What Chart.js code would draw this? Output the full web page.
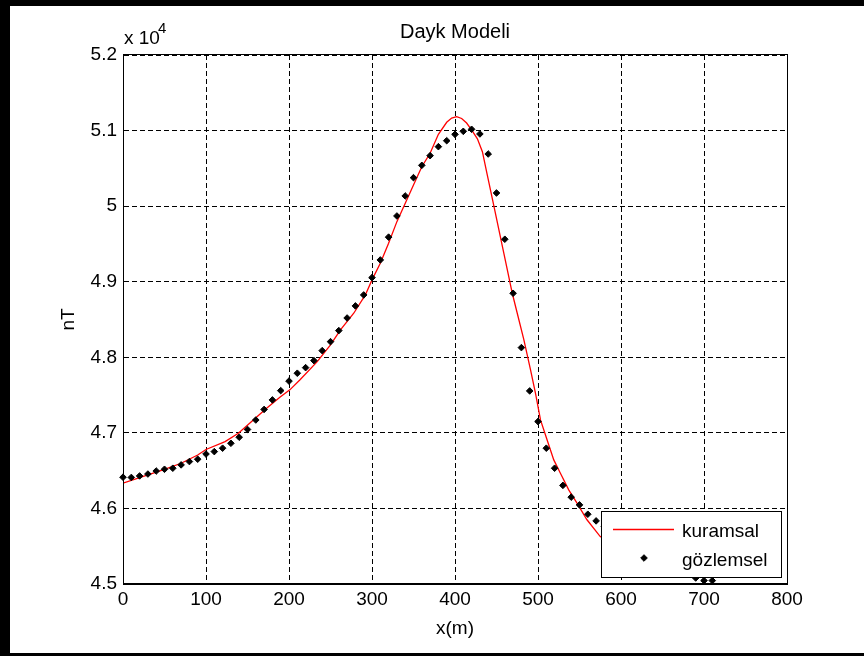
<!DOCTYPE html>
<html><head><meta charset="utf-8">
<script src="https://cdn.jsdelivr.net/npm/chart.js@4.4.1/dist/chart.umd.min.js"></script>
<style>
html,body{margin:0;padding:0;background:#fff;overflow:hidden;}
#wrap{position:relative;width:864px;height:656px;overflow:hidden;background:#fff;}
#c{position:absolute;left:0;top:0;}
#frame{position:absolute;left:0;top:0;width:864px;height:656px;box-sizing:border-box;border-top:6px solid #000;border-left:10px solid #000;border-bottom:3px solid #000;border-right:0;pointer-events:none;}
</style></head><body>
<div id="wrap"><canvas id="c" width="864" height="656"></canvas><div id="frame"></div></div>
<script>
const titleText = 'Dayk Modeli';
const xAxisTitle = 'x(m)';
const yAxisTitle = 'nT';
const exponentBase = 'x 10';
const exponentPower = '4';
const seriesNames = ['kuramsal', 'gözlemsel'];

const xTicks = [0, 100, 200, 300, 400, 500, 600, 700, 800];
const yTicks = [45000, 46000, 47000, 48000, 49000, 50000, 51000, 52000];
const yTickLabels = ['4.5', '4.6', '4.7', '4.8', '4.9', '5', '5.1', '5.2'];

// observed (gözlemsel)
const obsX = [0,10,20,30,40,50,60,70,80,90,100,110,120,130,140,150,160,170,180,190,200,210,220,230,240,250,260,270,280,290,300,310,320,330,340,350,360,370,380,390,400,410,420,430,440,450,460,470,480,490,500,510,520,530,540,550,560,570,580,590,600,610,620,630,640,650,660,670,680,690,700,710];
const obsY = [46413,46410,46430,46455,46495,46518,46532,46576,46620,46651,46720,46752,46797,46862,46942,47045,47170,47310,47436,47559,47685,47789,47863,47956,48088,48207,48353,48520,48680,48825,49054,49288,49590,49870,50135,50377,50540,50668,50787,50866,50950,50990,51017,50955,50690,50174,49562,48847,48128,47555,47150,46797,46532,46305,46149,46047,45923,45835,45760,45690,45620,45550,45480,45420,45360,45300,45240,45180,45125,45080,45045,45045];

// theoretical (kuramsal)
const theoX = [0,30,50,70,90,100,123,139,157,173,189,201,213,234,250,262,278,292,300,310,320,330,350,360,370,380,390,396,402,408,414,420,427,433,439,447,459,469,475,483,491,497,503,511,519,527,537,547,559,575,600,625,650,675,700,710];
const theoY = [46335,46443,46518,46598,46707,46780,46884,46995,47170,47326,47472,47569,47700,47942,48163,48362,48583,48825,49024,49245,49510,49795,50280,50522,50700,50950,51110,51165,51184,51160,51100,51010,50890,50720,50408,49993,49367,48847,48583,48230,47833,47524,47171,46906,46642,46466,46245,46069,45850,45627,45470,45360,45280,45220,45180,45170];

const FONT = "'Liberation Sans', Arial, sans-serif";
Chart.defaults.font.family = FONT;
Chart.defaults.color = '#000';

const extras = {
  id: 'extras',
  afterDraw(chart) {
    const ctx = chart.ctx, a = chart.chartArea;
    ctx.save();
    ctx.setLineDash([]);
    ctx.strokeStyle = '#000';
    ctx.lineWidth = 1;
    ctx.strokeRect(a.left + 0.5, a.top - 0.5, a.right - a.left, a.bottom - a.top);
    // exponent
    ctx.fillStyle = '#000';
    ctx.textAlign = 'left';
    ctx.textBaseline = 'alphabetic';
    ctx.font = '19px ' + FONT;
    ctx.fillText(exponentBase, a.left + 1, 44);
    ctx.font = '15px ' + FONT;
    ctx.fillText(exponentPower, a.left + 35, 33);
    // legend
    const lx = a.right - 186, ly = a.bottom - 73, lw = 180, lh = 66;
    ctx.fillStyle = '#fff';
    ctx.fillRect(lx, ly, lw, lh);
    ctx.strokeStyle = '#000';
    ctx.strokeRect(lx + 0.5, ly + 0.5, lw, lh);
    ctx.strokeStyle = '#ff0000';
    ctx.lineWidth = 1.3;
    ctx.beginPath();
    ctx.moveTo(lx + 12, ly + 18.5);
    ctx.lineTo(lx + 73, ly + 18.5);
    ctx.stroke();
    ctx.fillStyle = '#000';
    ctx.strokeStyle = '#000';
    ctx.lineWidth = 1;
    Chart.helpers.drawPoint(ctx, {pointStyle: 'rectRot', radius: 3.3, borderWidth: 1, rotation: 0}, lx + 43, ly + 47);
    ctx.fillStyle = '#000';
    ctx.font = '19px ' + FONT;
    ctx.fillText(seriesNames[0], lx + 81, ly + 25.5);
    ctx.fillText(seriesNames[1], lx + 81, ly + 54.5);
    ctx.restore();
  }
};

new Chart(document.getElementById('c'), {
  type: 'scatter',
  data: {
    datasets: [
      {
        label: seriesNames[0],
        data: theoX.map((x, i) => ({x: x, y: theoY[i]})),
        showLine: true,
        borderColor: '#ff0000',
        backgroundColor: '#ff0000',
        borderWidth: 1.3,
        pointRadius: 0,
        tension: 0,
        fill: false,
        order: 1
      },
      {
        label: seriesNames[1],
        data: obsX.map((x, i) => ({x: x, y: obsY[i]})),
        showLine: false,
        pointStyle: 'rectRot',
        pointRadius: 3.3,
        pointBorderWidth: 1,
        backgroundColor: '#000',
        borderColor: '#000',
        clip: false,
        order: 0
      }
    ]
  },
  options: {
    responsive: false,
    animation: false,
    devicePixelRatio: 1,
    layout: {padding: {left: 0, right: 77, top: 0, bottom: 0}},
    plugins: {
      legend: {display: false},
      tooltip: {enabled: false},
      title: {
        display: true,
        text: titleText,
        fullSize: false,
        color: '#000',
        font: {size: 20, weight: 'normal'},
        padding: {top: 20.5, bottom: 10.5}
      }
    },
    scales: {
      x: {
        type: 'linear',
        position: 'bottom',
        min: 0, max: 800,
        afterBuildTicks: s => { s.ticks = xTicks.map(v => ({value: v})); },
        ticks: {padding: 4, color: '#000', font: {size: 19}, callback: (v) => String(v)},
        grid: {color: '#000', lineWidth: 1, drawTicks: false},
        border: {display: true, color: '#000', width: 1, dash: [5, 3]},
        title: {display: true, text: xAxisTitle, color: '#000', font: {size: 19}, padding: {top: 0, bottom: 16}},
        afterFit: s => { s.height = 72; s.paddingLeft = 0; s.paddingRight = 0; }
      },
      y: {
        type: 'linear',
        position: 'left',
        min: 45000, max: 52000,
        afterBuildTicks: s => { s.ticks = yTicks.map(v => ({value: v})); },
        ticks: {padding: 6, color: '#000', font: {size: 19}, callback: (v, i) => yTickLabels[i]},
        grid: {color: '#000', lineWidth: 1, drawTicks: false},
        border: {display: true, color: '#000', width: 1, dash: [5, 3]},
        title: {display: true, text: yAxisTitle, color: '#000', font: {size: 19}, padding: {top: 57, bottom: 0}},
        afterFit: s => { s.width = 123; s.paddingTop = 0; s.paddingBottom = 0; }
      }
    }
  },
  plugins: [extras]
});
</script>
</body></html>
